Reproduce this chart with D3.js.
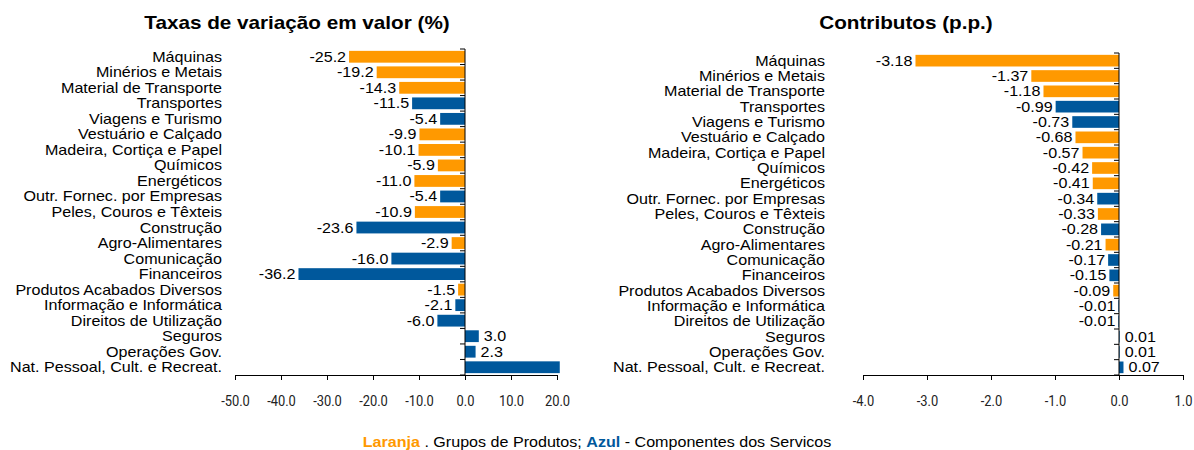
<!DOCTYPE html>
<html>
<head>
<meta charset="utf-8">
<script src="https://cdn.jsdelivr.net/npm/d3@7"></script>
<style>
  body { margin: 0; background: #fff; }
  svg { font-family: "Liberation Sans", Arial, sans-serif; }
</style>
</head>
<body>
<div id="chart"></div>
<script>
var categories = ['Máquinas', 'Minérios e Metais', 'Material de Transporte', 'Transportes',
  'Viagens e Turismo', 'Vestuário e Calçado', 'Madeira, Cortiça e Papel', 'Químicos',
  'Energéticos', 'Outr. Fornec. por Empresas', 'Peles, Couros e Têxteis', 'Construção',
  'Agro-Alimentares', 'Comunicação', 'Financeiros', 'Produtos Acabados Diversos',
  'Informação e Informática', 'Direitos de Utilização', 'Seguros', 'Operações Gov.',
  'Nat. Pessoal, Cult. e Recreat.'];

// P = grupos de produtos (laranja), S = componentes dos serviços (azul)
var groups = ['P', 'P', 'P', 'S', 'S', 'P', 'P', 'P', 'P', 'S', 'P', 'S', 'P', 'S', 'S', 'P', 'S', 'S', 'S', 'S', 'S'];

var taxas = [-25.2, -19.2, -14.3, -11.5, -5.4, -9.9, -10.1, -5.9, -11.0, -5.4, -10.9, -23.6,
  -2.9, -16.0, -36.2, -1.5, -2.1, -6.0, 3.0, 2.3, 20.6];

var contributos = [-3.18, -1.37, -1.18, -0.99, -0.73, -0.68, -0.57, -0.42, -0.41, -0.34, -0.33,
  -0.28, -0.21, -0.17, -0.15, -0.09, -0.01, -0.01, 0.01, 0.01, 0.07];

var taxasTicks = [-50, -40, -30, -20, -10, 0, 10, 20];
var contribTicks = [-4, -3, -2, -1, 0, 1];

var orange = '#ff9900', blue = '#00589c';
var stretch = 1.15; // the original text is a bit wider than it is tall

var svg = d3.select('#chart').append('svg')
  .attr('width', 1194)
  .attr('height', 450);

function fmt(f) {
  return function(v) { return d3.format(f)(v).replace('\u2212', '-'); };
}

function place(sel, fx, fy) {
  sel.attr('transform', function(d, i) {
    return 'translate(' + fx(d, i) + ',' + fy(d, i) + ') scale(' + stretch + ',1)';
  });
}

function barPanel(opts) {
  var x = d3.scaleLinear().domain(opts.domain).range([opts.left, opts.right]);
  var y = d3.scaleBand().domain(categories).range([opts.top, opts.bottom]).paddingInner(0.24).paddingOuter(0.12);
  var g = svg.append('g');

  g.append('text')
    .attr('text-anchor', 'middle')
    .style('font-size', '18px')
    .style('font-weight', 'bold')
    .text(opts.title)
    .call(place, function() { return opts.titleX; }, function() { return 29; });

  // category labels
  g.selectAll('text.cat')
    .data(categories)
    .enter()
    .append('text')
    .attr('class', 'cat')
    .attr('text-anchor', 'end')
    .style('font-size', '14px')
    .text(function(d) { return d; })
    .call(place, function() { return opts.labelX; }, function(d) { return y(d) + y.bandwidth() / 2 + 5; });

  var data = opts.values.map(function(v, i) { return { cat: categories[i], v: v, g: groups[i] }; });

  g.selectAll('rect')
    .data(data)
    .enter()
    .append('rect')
    .attr('x', function(d) { return x(Math.min(0, d.v)); })
    .attr('y', function(d) { return y(d.cat); })
    .attr('width', function(d) { return Math.abs(x(d.v) - x(0)); })
    .attr('height', y.bandwidth())
    .attr('fill', function(d) { return d.g == 'P' ? orange : blue; });

  g.selectAll('text.val')
    .data(data.filter(function(d) { return !opts.hideLast || d.cat != categories[categories.length - 1]; }))
    .enter()
    .append('text')
    .attr('class', 'val')
    .attr('text-anchor', function(d) { return d.v < 0 ? 'end' : 'start'; })
    .style('font-size', '14px')
    .text(function(d) { return fmt(opts.fmt)(d.v); })
    .call(place, function(d) { return d.v < 0 ? x(d.v) - 3 : x(d.v) + 5; },
      function(d) { return y(d.cat) + y.bandwidth() / 2 + 5; });

  // zero axis with small ticks at category boundaries
  g.append('line')
    .attr('x1', x(0)).attr('x2', x(0))
    .attr('y1', opts.top).attr('y2', opts.bottom)
    .attr('stroke', '#000');
  g.selectAll('line.yt')
    .data(d3.range(categories.length + 1))
    .enter()
    .append('line')
    .attr('class', 'yt')
    .attr('x1', x(0) - 5).attr('x2', x(0))
    .attr('y1', function(i) { return opts.top + (opts.bottom - opts.top) * i / categories.length; })
    .attr('y2', function(i) { return opts.top + (opts.bottom - opts.top) * i / categories.length; })
    .attr('stroke', '#000');

  var ax = g.append('g')
    .attr('transform', 'translate(0,' + opts.bottom + ')')
    .call(d3.axisBottom(x).tickValues(opts.ticks).tickFormat(fmt('.1f')).tickSize(5).tickSizeOuter(0));
  // tick labels are a narrow face in the original
  ax.selectAll('text')
    .style('font-size', '15px')
    .style('font-family', 'Roboto, sans-serif')
    .attr('y', 0).attr('dy', 0)
    .attr('transform', 'translate(0,31) scale(0.86,1)')
    .attr('fill', '#222');
  ax.selectAll('line, path').attr('stroke', '#000');
}

barPanel({
  title: 'Taxas de variação em valor (%)', titleX: 297,
  domain: [-50, 20], left: 235, right: 557,
  top: 49, bottom: 375, labelX: 222,
  values: taxas, ticks: taxasTicks, fmt: '.1f', hideLast: true
});

barPanel({
  title: 'Contributos (p.p.)', titleX: 906,
  domain: [-4, 1], left: 863, right: 1183,
  top: 53, bottom: 375, labelX: 825,
  values: contributos, ticks: contribTicks, fmt: '.2f', hideLast: false
});

var legend = svg.append('text')
  .attr('text-anchor', 'middle')
  .style('font-size', '14px')
  .attr('transform', 'translate(597,447) scale(' + stretch + ',1)');
legend.append('tspan').attr('fill', orange).style('font-weight', 'bold').text('Laranja');
legend.append('tspan').text(' . Grupos de Produtos; ');
legend.append('tspan').attr('fill', blue).style('font-weight', 'bold').text('Azul');
legend.append('tspan').text(' - Componentes dos Servicos');
</script>
</body>
</html>
